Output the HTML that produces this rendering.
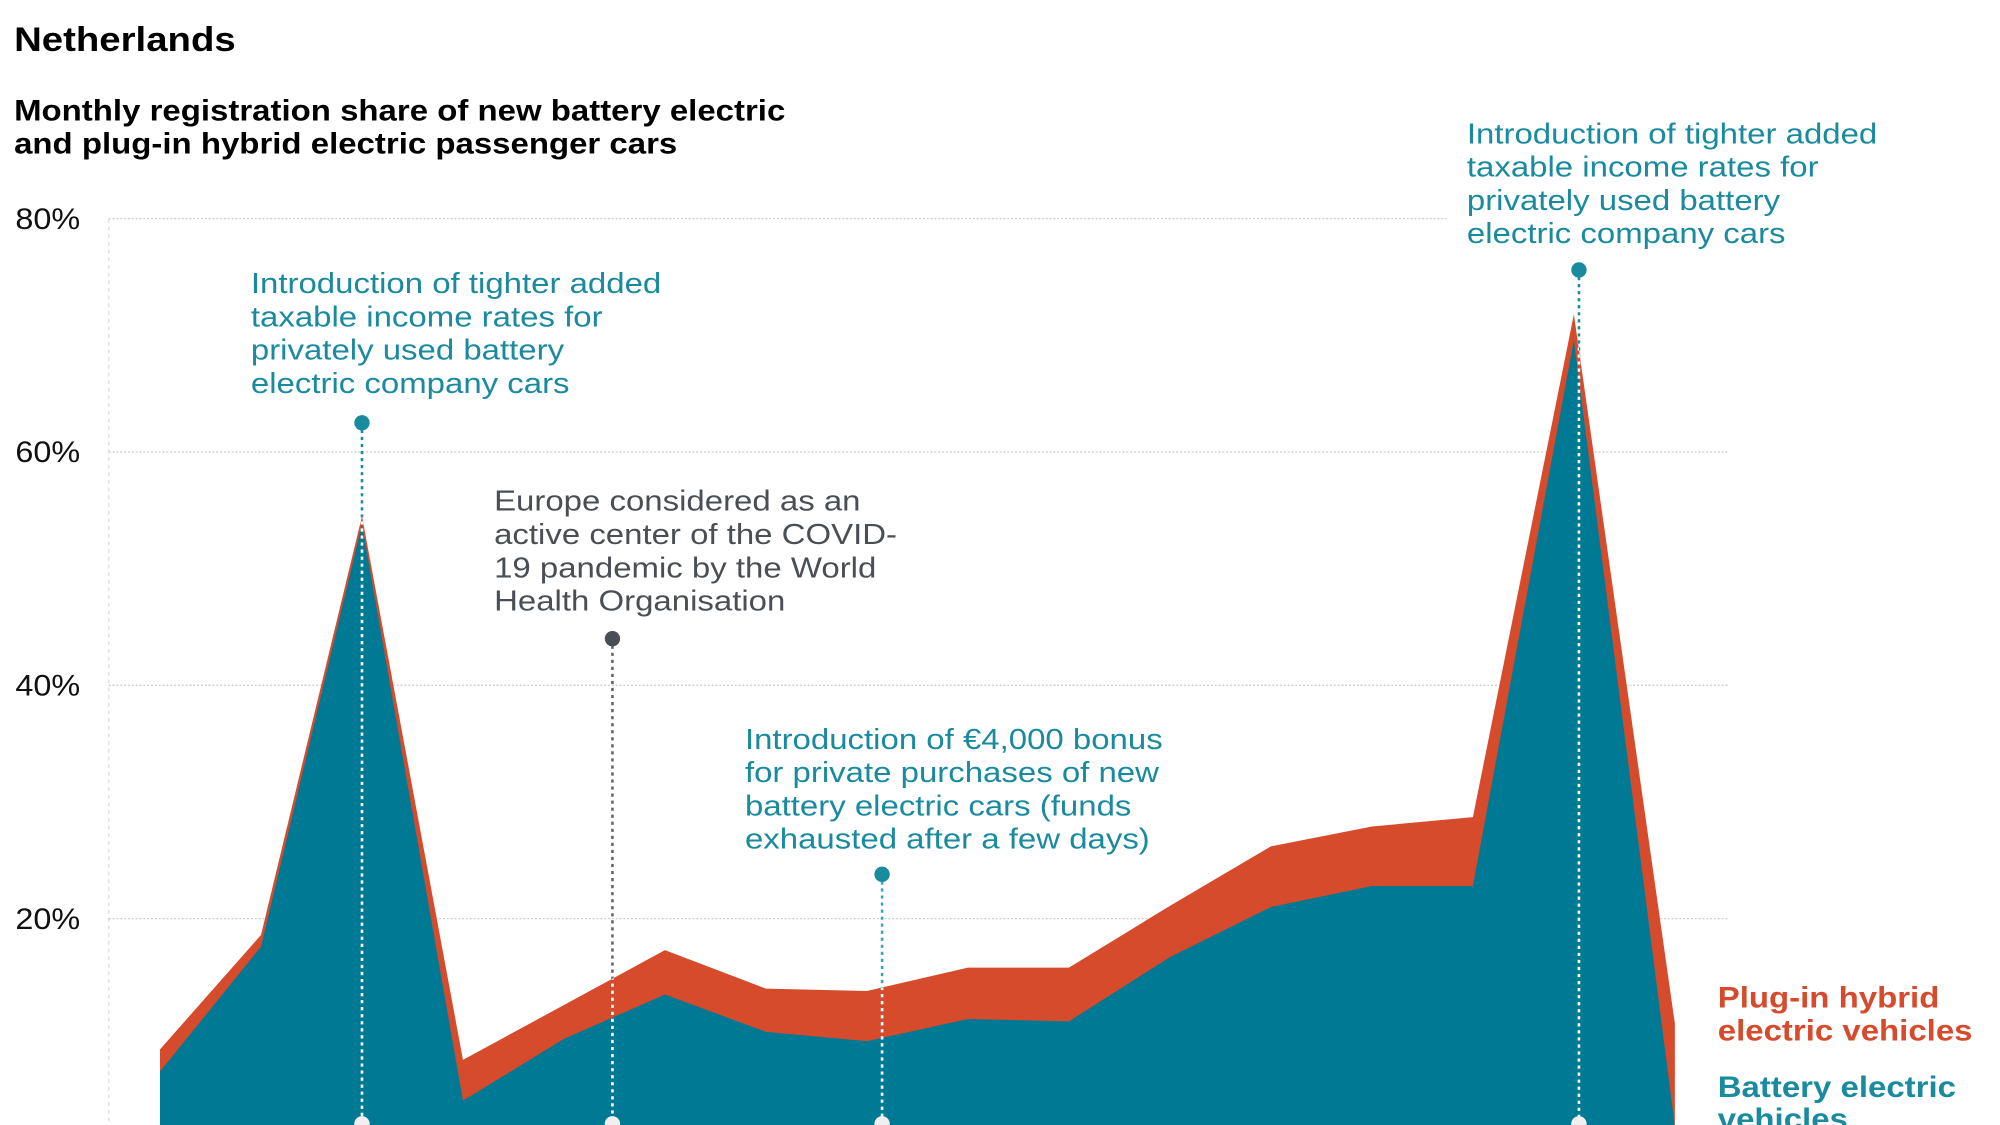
<!DOCTYPE html>
<html><head><meta charset="utf-8"><style>
html,body{margin:0;padding:0;background:#fff;overflow:hidden}
svg{display:block}
text{font-family:"Liberation Sans",Arial,sans-serif}
</style></head><body>
<svg id="chart" width="2000" height="1125" viewBox="0 0 1562.5 878.9" xmlns="http://www.w3.org/2000/svg">
<text x="11" y="40" font-size="27" font-weight="bold" fill="#000" transform="translate(11,0) scale(1.11,1) translate(-11,0)">Netherlands</text>
<text font-size="23" font-weight="bold" fill="#000" transform="translate(11,0) scale(1.12,1) translate(-11,0)"><tspan x="11" y="94">Monthly registration share of new battery electric</tspan><tspan x="11" y="120">and plug-in hybrid electric passenger cars</tspan></text>
<g id="grid"></g>
<g id="areas"></g>
<g id="annos"></g>
<text font-size="23" font-weight="bold" fill="#d64b2c" transform="translate(1342,0) scale(1.12,1) translate(-1342,0)"><tspan x="1342" y="787">Plug-in hybrid</tspan><tspan x="1342" y="813">electric vehicles</tspan></text>
<text font-size="23" font-weight="bold" fill="#1a8a9e" transform="translate(1342,0) scale(1.12,1) translate(-1342,0)"><tspan x="1342" y="857">Battery electric</tspan><tspan x="1342" y="882">vehicles</tspan></text>
</svg>
<script>
const months = ["m1","m2","m3","m4","m5","m6","m7","m8","m9","m10","m11","m12","m13","m14","m15","m16"];
const bevShare = [6.9,17.6,53.8,4.4,9.7,13.5,10.3,9.5,11.4,11.2,16.7,21.0,22.8,22.8,69.6,2.2];
const totalShare = [8.8,18.6,54.5,7.9,12.6,17.3,14.0,13.8,15.8,15.8,21.1,26.2,27.9,28.7,71.8,11.0];
const yTicks = [20,40,60,80];
const yTickLabels = ["20%","40%","60%","80%"];
const annoIndex = [2,4.48,7.15,14.05];
const annoValue = [62.5,44,23.8,75.6];
const NS="http://www.w3.org/2000/svg";
const x = i => 125 + i*78.9;
const y = v => 900 - v*9.115;
function mk(tag, attrs, parent){const e=document.createElementNS(NS,tag);for(const k in attrs)e.setAttribute(k,attrs[k]);parent.appendChild(e);return e;}
const grid=document.getElementById('grid');
mk('line',{x1:85,x2:85,y1:171,y2:879,stroke:'#ddd','stroke-dasharray':'3 3','stroke-width':1},grid);
yTicks.forEach((t,i)=>{
  const l=mk('line',{x1:85,x2:t===80?1130:1350,y1:y(t),y2:y(t),stroke:'#ccc','stroke-dasharray':'1.5 1.5','stroke-width':1},grid);
  
  
  const tx=mk('text',{x:12,y:y(t)+8,'font-size':23,fill:'#111',transform:'translate(12,0) scale(1.1,1) translate(-12,0)'},grid);
  tx.textContent=yTickLabels[i];
  
  
});
const areas=document.getElementById('areas');
function areaPath(vals){let d='M'+x(0)+','+y(0);vals.forEach((v,i)=>{d+=' L'+x(i)+','+y(v);});d+=' L'+x(vals.length-1)+','+y(0)+' Z';return d;}
const ph=mk('path',{d:areaPath(totalShare),fill:'#d64b2c'},areas);


const bv=mk('path',{d:areaPath(bevShare),fill:'#007a94'},areas);


const defs=mk('defs',{},document.getElementById('chart'));
const cp=mk('clipPath',{id:'ac'},defs);
mk('path',{d:areaPath(totalShare)},cp);
const annos=document.getElementById('annos');
const aColors=['#1a8a9e','#4a4f55','#1a8a9e','#1a8a9e'];
const aLineCol=['#1a8a9e','#666','#3aa3b8','#1a8a9e'];
annoIndex.forEach((ai,k)=>{
  const ax=x(ai), ay=y(annoValue[k]);
  const l=mk('line',{x1:ax,x2:ax,y1:ay,y2:876,stroke:aLineCol[k],'stroke-width':2,'stroke-dasharray':'2.5 3'},annos);
  
  
  mk('line',{x1:ax,x2:ax,y1:ay,y2:876,stroke:'#fff','stroke-width':2,'stroke-dasharray':'2.5 3','clip-path':'url(#ac)'},annos);
  const c=mk('circle',{cx:ax,cy:ay,r:6,fill:aColors[k]},annos);
  
  
  const b=mk('circle',{cx:ax,cy:878,r:6,fill:'#f0f0f0'},annos);
  
  
});
const texts=[
 {x:196,y:229,c:'#1a8a9e',l:["Introduction of tighter added","taxable income rates for","privately used battery","electric company cars"]},
 {x:386,y:399,c:'#4a4f55',l:["Europe considered as an","active center of the COVID-","19 pandemic by the World","Health Organisation"]},
 {x:582,y:585,c:'#1a8a9e',l:["Introduction of €4,000 bonus","for private purchases of new","battery electric cars (funds","exhausted after a few days)"]},
 {x:1146,y:112,c:'#1a8a9e',l:["Introduction of tighter added","taxable income rates for","privately used battery","electric company cars"]}
];
texts.forEach(t=>{
  const tx=mk('text',{'font-size':22.5,fill:t.c,transform:'translate('+t.x+',0) scale(1.145,1) translate('+(-t.x)+',0)'},annos);
  
  
  t.l.forEach((s,i)=>{const ts=mk('tspan',{x:t.x,y:t.y+i*26},tx);ts.textContent=s;});
});
</script>
</body></html>
